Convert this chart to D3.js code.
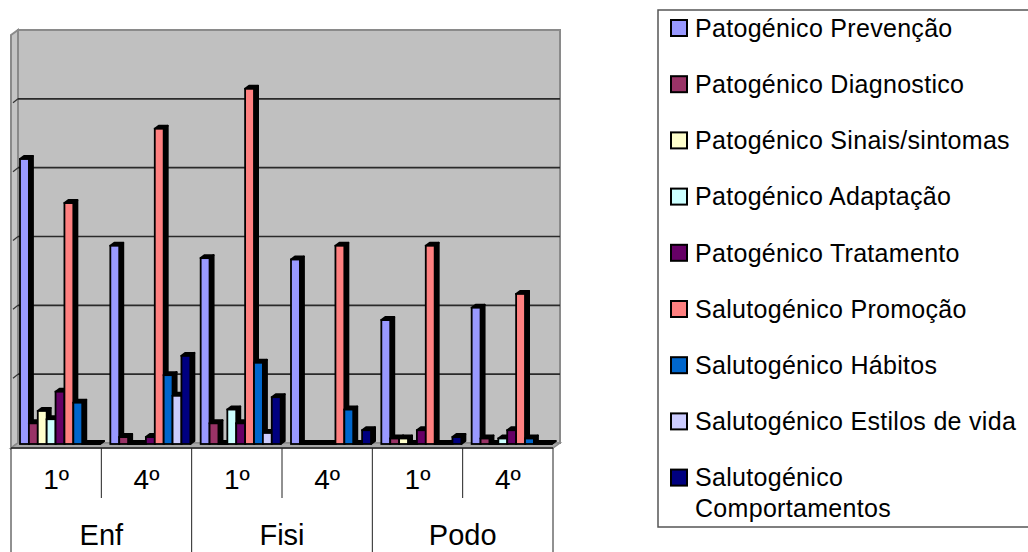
<!DOCTYPE html>
<html>
<head>
<meta charset="utf-8">
<script src="https://cdn.jsdelivr.net/npm/d3@7"></script>
<style>
  body { margin: 0; background: #fff; }
  svg { display: block; font-family: Arial, "Liberation Sans", sans-serif; }
</style>
</head>
<body>
<div id="chart"></div>
<script>
// categorias
const courses = ["Enf", "Fisi", "Podo"];
const years = ["1º", "4º"];
// series (ordem da legenda)
const seriesNames = [
  "Patogénico Prevenção",
  "Patogénico Diagnostico",
  "Patogénico Sinais/sintomas",
  "Patogénico Adaptação",
  "Patogénico Tratamento",
  "Salutogénico Promoção",
  "Salutogénico Hábitos",
  "Salutogénico Estilos de vida",
  "Salutogénico Comportamentos"
];
const seriesColors = ["#9999ff", "#993366", "#ffffcc", "#ccffff", "#660066",
                      "#ff8080", "#0066cc", "#ccccff", "#000080"];
// valores: Enf 1º, Enf 4º, Fisi 1º, Fisi 4º, Podo 1º, Podo 4º
const prevencao      = [20.7, 14.4, 13.5, 13.4, 9.0, 9.9];
const diagnostico    = [1.5, 0.5, 1.5, 0, 0.4, 0.4];
const sinais         = [2.4, 0, 0, 0, 0.4, 0];
const adaptacao      = [1.8, 0, 2.5, 0, 0, 0.4];
const tratamento     = [3.8, 0.5, 1.5, 0, 1.0, 1.0];
const promocao       = [17.5, 22.9, 25.8, 14.4, 14.4, 10.9];
const habitos        = [3.0, 5.0, 5.9, 2.5, 0, 0.4];
const estilos        = [0, 3.5, 0.8, 0, 0, 0];
const comportamentos = [0, 6.4, 3.4, 1.0, 0.5, 0];
const seriesValues = [prevencao, diagnostico, sinais, adaptacao, tratamento,
                      promocao, habitos, estilos, comportamentos];
const yTicks = [0, 5, 10, 15, 20, 25, 30];

const width = 1028, height = 552;
// profundidade das paredes e das barras
const wallDx = 7, wallDy = -5;
const barDx = 4, barDy = -3;

const cats = [];
courses.forEach(c => years.forEach(yr => cats.push(c + " " + yr)));

// escalas
const x0 = d3.scaleBand().domain(cats).range([11, 553]);
const x1 = d3.scaleBand().domain(seriesNames).range([9, 89]);
const yBack = d3.scaleLinear().domain([0, 30]).range([443, 30]);
const y = d3.scaleLinear().domain([0, 30]).range([444, 31]);

const svg = d3.select("#chart").append("svg")
  .attr("width", width)
  .attr("height", height);

// paredes
const left = x0.range()[0], right = x0.range()[1];
svg.append("polygon")
  .attr("points", [[left, yBack(30) - wallDy], [left + wallDx, yBack(30)],
                   [left + wallDx, yBack(0)], [left, yBack(0) - wallDy]].join(" "))
  .attr("fill", "#c4c4c4").attr("stroke", "#8a8a8a").attr("stroke-width", 2);
svg.append("rect")
  .attr("x", left + wallDx).attr("y", yBack(30))
  .attr("width", right - left).attr("height", yBack(0) - yBack(30))
  .attr("fill", "#c0c0c0").attr("stroke", "#8a8a8a").attr("stroke-width", 2);
svg.append("polygon")
  .attr("points", [[left, yBack(0) - wallDy], [left + wallDx, yBack(0)],
                   [right + wallDx, yBack(0)], [right, yBack(0) - wallDy]].join(" "))
  .attr("fill", "#a8a8a8").attr("stroke", "#8a8a8a").attr("stroke-width", 1.5);

// grelha
const grid = svg.append("g");
grid.selectAll("line.back")
  .data(yTicks.filter(t => t > 0 && t < 30))
  .join("line")
  .attr("class", "back")
  .attr("x1", left + wallDx).attr("x2", right + wallDx)
  .attr("y1", d => yBack(d)).attr("y2", d => yBack(d))
  .attr("stroke", "#2a2a2a").attr("stroke-width", 1.6);
grid.selectAll("line.side")
  .data(yTicks.filter(t => t > 0 && t < 30))
  .join("line")
  .attr("class", "side")
  .attr("x1", left + 2).attr("x2", left + wallDx)
  .attr("y1", d => yBack(d) + 4).attr("y2", d => yBack(d))
  .attr("stroke", "#333").attr("stroke-width", 1.2);

// barras 3D
const bars = [];
cats.forEach((c, ci) => seriesNames.forEach((s, si) => {
  bars.push({ cat: c, name: s, color: seriesColors[si], value: seriesValues[si][ci] });
}));

const barG = svg.append("g")
  .selectAll("g.bar")
  .data(bars)
  .join("g")
  .attr("class", "bar");

barG.each(function(d) {
  const g = d3.select(this);
  const bx = x0(d.cat) + x1(d.name);
  const bw = x1.bandwidth();
  const top = y(d.value), base = y(0);
  g.append("polygon")
    .attr("points", [[bx + bw, top], [bx + bw + barDx, top + barDy],
                     [bx + bw + barDx, base + barDy], [bx + bw, base]].join(" "))
    .attr("fill", "#000").attr("stroke", "#000").attr("stroke-width", 2)
    .attr("stroke-linejoin", "round");
  g.append("polygon")
    .attr("points", [[bx, top], [bx + barDx, top + barDy],
                     [bx + bw + barDx, top + barDy], [bx + bw, top]].join(" "))
    .attr("fill", "#000").attr("stroke", "#000").attr("stroke-width", 2)
    .attr("stroke-linejoin", "round");
  if (base - top > 0.5) {
    g.append("rect")
      .attr("x", bx).attr("y", top)
      .attr("width", bw).attr("height", base - top)
      .attr("fill", d.color).attr("stroke", "#000").attr("stroke-width", 1.8);
  }
});

// eixo de categorias (tabela)
const axisTop = yBack(0) - wallDy;
const axis = svg.append("g");
axis.append("line")
  .attr("x1", left).attr("x2", right).attr("y1", axisTop).attr("y2", axisTop)
  .attr("stroke", "#222").attr("stroke-width", 1.5);
axis.selectAll("line.sep")
  .data(d3.range(cats.length + 1))
  .join("line")
  .attr("class", "sep")
  .attr("x1", i => i < cats.length ? x0(cats[i]) : right)
  .attr("x2", i => i < cats.length ? x0(cats[i]) : right)
  .attr("y1", axisTop)
  .attr("y2", i => i % 2 === 0 ? height : 498)
  .attr("stroke", "#222").attr("stroke-width", 1);
axis.selectAll("text.year")
  .data(cats)
  .join("text")
  .attr("class", "year")
  .attr("x", d => x0(d) + x0.bandwidth() / 2)
  .attr("y", 489)
  .attr("text-anchor", "middle")
  .attr("font-size", 28)
  .text(d => d.split(" ")[1]);
axis.selectAll("text.course")
  .data(courses)
  .join("text")
  .attr("class", "course")
  .attr("x", d => x0(d + " " + years[0]) + x0.bandwidth())
  .attr("y", 545)
  .attr("text-anchor", "middle")
  .attr("font-size", 29)
  .text(d => d);

// legenda
const legend = svg.append("g");
legend.append("rect")
  .attr("x", 658).attr("y", 10)
  .attr("width", 420).attr("height", 517)
  .attr("fill", "#fff").attr("stroke", "#555").attr("stroke-width", 1.5);
const item = legend.selectAll("g.item")
  .data(seriesNames)
  .join("g")
  .attr("class", "item")
  .attr("transform", (d, i) => `translate(671,${28 + i * 56.2})`);
item.append("rect")
  .attr("x", 0).attr("y", -8)
  .attr("width", 16).attr("height", 16)
  .attr("fill", (d, i) => seriesColors[i])
  .attr("stroke", "#000").attr("stroke-width", 2);
item.append("text")
  .attr("x", 24)
  .attr("dy", "0.35em")
  .attr("font-size", 25)
  .attr("letter-spacing", 0.3)
  .each(function(d) {
    const t = d3.select(this);
    if (d === "Salutogénico Comportamentos") {
      t.append("tspan").attr("x", 24).text("Salutogénico");
      t.append("tspan").attr("x", 24).attr("dy", 31).text("Comportamentos");
    } else {
      t.text(d);
    }
  });
</script>
</body>
</html>
